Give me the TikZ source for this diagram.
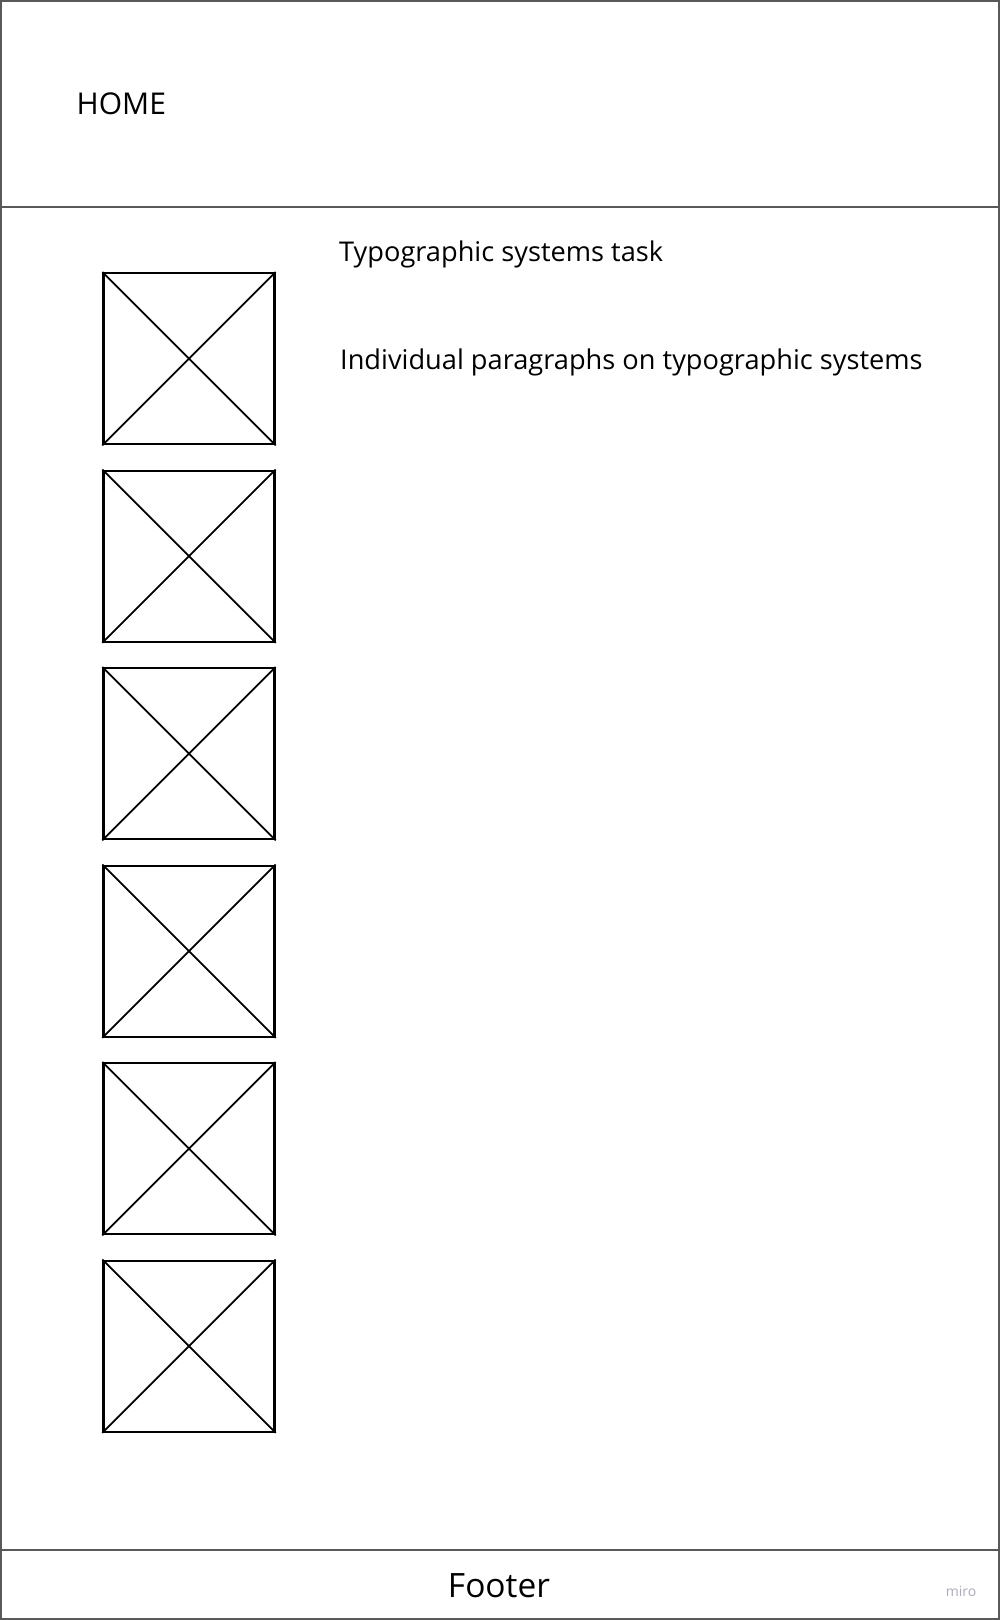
\documentclass[tikz,border=0pt]{standalone}
\usepackage{fontspec}
\setmainfont{Open Sans}
\begin{document}
\begin{tikzpicture}[x=1pt,y=-1pt,
  frameline/.style={draw=black!65,line width=1.6pt},
  imgbox/.style={draw=black,line width=2.4pt,minimum width=171pt,minimum height=171pt,inner sep=0pt},
  diag/.style={draw=black,line width=1.8pt},
  txt/.style={inner sep=0pt,anchor=base west,font=\fontsize{27.2}{32}\selectfont}]
\useasboundingbox (0,0) rectangle (1000,1620);
\fill[white] (0,0) rectangle (1000,1620);
% frame
\draw[frameline] (0.8,0.8) rectangle (999.2,1619.2);
\coordinate (hl) at (0,206.7);
\coordinate (hr) at (1000,206.7);
\coordinate (fl) at (0,1550);
\coordinate (fr) at (1000,1550);
\draw[frameline] (hl) -- (hr);
\draw[frameline] (fl) -- (fr);
% texts
\node[txt,font=\fontsize{30}{35}\selectfont] (home) at (76.5,114) {HOME};
\node[txt] (title) at (339,261) {Typographic systems task};
\node[txt] (para) at (340,369) {Individual paragraphs on typographic systems};
\node[inner sep=0pt,anchor=base,font=\fontsize{33.5}{38}\selectfont] (footer) at (499,1597) {Footer};
\node[inner sep=0pt,anchor=base,text=black!25!blue!10!white!75!black,font=\fontsize{14}{16}\selectfont] (miro) at (961,1596) {miro};
% image placeholders
\foreach \i in {0,...,5}{
  \node[imgbox] (b\i) at (189,{358.7+197.5*\i}) {};
  \draw[diag] (b\i.north west) -- (b\i.south east);
  \draw[diag] (b\i.north east) -- (b\i.south west);
}
\end{tikzpicture}
\end{document}
